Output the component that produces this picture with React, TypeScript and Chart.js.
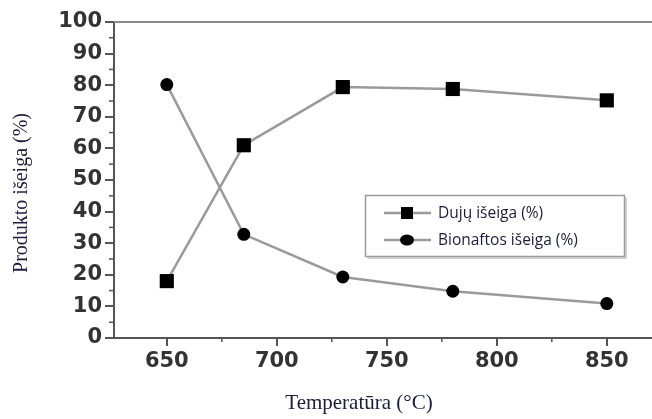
import React, { useEffect, useRef } from "react";
import { Chart, registerables } from "chart.js";

Chart.register(...registerables);

const temperatures = [650, 685, 730, 780, 850];
const gasYield = [18, 61, 79.4, 78.8, 75.2];
const bioOilYield = [80.2, 32.8, 19.3, 14.8, 10.9];
const xTickValues = [650, 700, 750, 800, 850];
const xMinorTicks = [675, 725, 775, 825];
const yMinorTicks = [5, 15, 25, 35, 45, 55, 65, 75, 85, 95];
const seriesLabels = ["Dujų išeiga (%)", "Bionaftos išeiga (%)"];
const xTitle = "Temperatūra (°C)";
const yTitle = "Produkto išeiga (%)";

const AXIS_COLOR = "#555555";
const LINE_COLOR = "#9a9a9a";
const TITLE_COLOR = "#1c1c3e";

const decorPlugin = {
  id: "decor",
  afterDraw(chart: any) {
    const ctx = chart.ctx;
    const area = chart.chartArea;
    const xs = chart.scales.x;
    const ys = chart.scales.y;
    ctx.save();
    // top frame line and x-axis line continued to the canvas edge
    ctx.strokeStyle = "#8a8a8a";
    ctx.lineWidth = 2;
    ctx.beginPath();
    ctx.moveTo(area.left, area.top);
    ctx.lineTo(chart.width, area.top);
    ctx.stroke();
    ctx.strokeStyle = AXIS_COLOR;
    ctx.beginPath();
    ctx.moveTo(area.right - 1, area.bottom);
    ctx.lineTo(chart.width, area.bottom);
    ctx.stroke();
    // minor ticks
    ctx.strokeStyle = AXIS_COLOR;
    ctx.lineWidth = 1.5;
    yMinorTicks.forEach((v) => {
      const y = ys.getPixelForValue(v);
      ctx.beginPath();
      ctx.moveTo(area.left - 5, y);
      ctx.lineTo(area.left, y);
      ctx.stroke();
    });
    xMinorTicks.forEach((v) => {
      const x = xs.getPixelForValue(v);
      ctx.beginPath();
      ctx.moveTo(x, area.bottom);
      ctx.lineTo(x, area.bottom + 4);
      ctx.stroke();
    });
    // axis titles
    ctx.fillStyle = TITLE_COLOR;
    ctx.textAlign = "center";
    ctx.textBaseline = "middle";
    ctx.font = "21px 'Liberation Serif', serif";
    ctx.fillText(xTitle, 359, 403);
    ctx.save();
    ctx.translate(22, 193);
    ctx.rotate(-Math.PI / 2);
    ctx.font = "20px 'Liberation Serif', serif";
    ctx.fillText(yTitle, 0, 0);
    ctx.restore();
    // legend
    const bx = 365.5, by = 195.5, bw = 259, bh = 61;
    ctx.strokeStyle = "#9a9a9a";
    ctx.lineWidth = 1.5;
    ctx.strokeRect(bx, by, bw, bh);
    ctx.strokeStyle = "#c4c4c4";
    ctx.lineWidth = 1.5;
    ctx.beginPath();
    ctx.moveTo(bx + 2, by + bh + 1.5);
    ctx.lineTo(bx + bw + 1.5, by + bh + 1.5);
    ctx.lineTo(bx + bw + 1.5, by + 2);
    ctx.stroke();
    const rows = [213, 240];
    chart.data.datasets.forEach((ds: any, i: number) => {
      const y = rows[i];
      ctx.strokeStyle = LINE_COLOR;
      ctx.lineWidth = 2.5;
      ctx.beginPath();
      ctx.moveTo(384, y);
      ctx.lineTo(431, y);
      ctx.stroke();
      ctx.fillStyle = "#000";
      if (ds.pointStyle === "rect") {
        ctx.fillRect(401, y - 6, 12, 12);
      } else {
        ctx.beginPath();
        ctx.ellipse(407, y, 7, 5.5, 0, 0, Math.PI * 2);
        ctx.fill();
      }
      ctx.fillStyle = TITLE_COLOR;
      ctx.textAlign = "left";
      ctx.textBaseline = "middle";
      ctx.font = "15.5px 'Open Sans', sans-serif";
      ctx.fillText(ds.label, 438, y + 1);
    });
    ctx.restore();
  },
};

export default function App() {
  const canvasRef = useRef<HTMLCanvasElement | null>(null);

  useEffect(() => {
    document.body.style.margin = "0";
    const canvas = canvasRef.current;
    if (!canvas) return;
    const chart = new Chart(canvas, {
      type: "line",
      data: {
        datasets: [
          {
            label: seriesLabels[0],
            data: temperatures.map((t, i) => ({ x: t, y: gasYield[i] })),
            borderColor: LINE_COLOR,
            borderWidth: 2.5,
            pointStyle: "rect",
            pointRadius: 10,
            pointBackgroundColor: "#000",
            pointBorderWidth: 0,
            tension: 0,
          },
          {
            label: seriesLabels[1],
            data: temperatures.map((t, i) => ({ x: t, y: bioOilYield[i] })),
            borderColor: LINE_COLOR,
            borderWidth: 2.5,
            pointStyle: "circle",
            pointRadius: 6.5,
            pointBackgroundColor: "#000",
            pointBorderWidth: 0,
            tension: 0,
          },
        ],
      },
      options: {
        animation: false,
        responsive: false,
        devicePixelRatio: 1,
        layout: { padding: { top: 22, right: 0, left: 0, bottom: 0 } },
        plugins: { legend: { display: false }, tooltip: { enabled: false } },
        scales: {
          x: {
            type: "linear",
            min: 626,
            max: 870.6,
            afterBuildTicks: (scale: any) => {
              scale.ticks = xTickValues.map((v) => ({ value: v }));
            },
            afterFit: (scale: any) => {
              scale.height = 81;
              scale.paddingLeft = 0;
              scale.paddingRight = 0;
            },
            grid: {
              drawOnChartArea: false,
              drawTicks: true,
              tickLength: 8,
              color: AXIS_COLOR,
              lineWidth: 2,
            },
            border: { display: true, color: AXIS_COLOR, width: 2 },
            ticks: {
              padding: 3,
              color: "#333333",
              font: { family: "'DejaVu Sans'", size: 21, weight: "bold" },
              maxRotation: 0,
            },
          },
          y: {
            min: 0,
            max: 100,
            afterFit: (scale: any) => {
              scale.width = 114;
              scale.paddingTop = 0;
              scale.paddingBottom = 0;
            },
            grid: {
              drawOnChartArea: false,
              drawTicks: true,
              tickLength: 9,
              color: AXIS_COLOR,
              lineWidth: 2,
            },
            border: { display: true, color: AXIS_COLOR, width: 2 },
            ticks: {
              stepSize: 10,
              padding: 3,
              color: "#333333",
              font: { family: "'DejaVu Sans'", size: 21, weight: "bold" },
            },
          },
        },
      },
      plugins: [
        decorPlugin,
        {
          id: "fitRight",
          afterLayout(chart: any) {
            // extend the x scale so that 850 °C lands where it does in the reference
            const area = chart.chartArea;
            const xs = chart.scales.x;
            const pxPerUnit = 2.2;
            const wanted = 650 + (area.right - (650 - 626) * pxPerUnit - area.left) / pxPerUnit;
            if (Math.abs(xs.max - wanted) > 0.01 && !chart.$refit) {
              chart.$refit = true;
              chart.options.scales.x.max = wanted;
              chart.update("none");
            }
          },
        },
      ],
    });
    return () => chart.destroy();
  }, []);

  return (
    <div style={{ width: 652, height: 419, overflow: "hidden", background: "#fff" }}>
      <canvas ref={canvasRef} width={652} height={419} style={{ display: "block", width: 652, height: 419 }} />
    </div>
  );
}
